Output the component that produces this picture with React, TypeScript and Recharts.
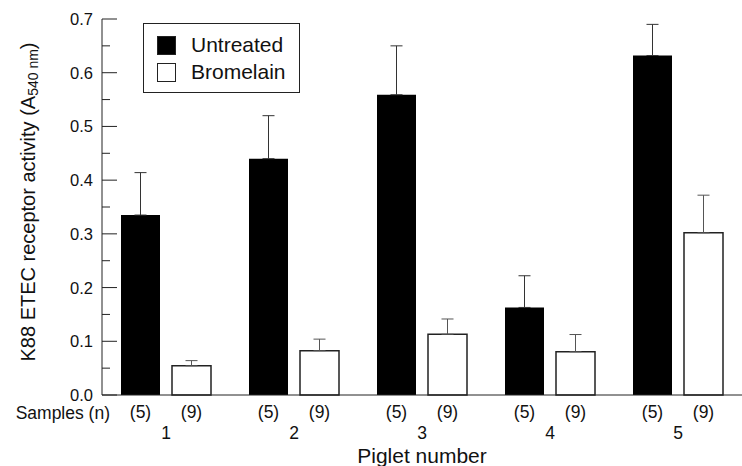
import { BarChart, Bar, XAxis, YAxis, ErrorBar, LabelList, Legend } from "recharts";

const piglets = ["1", "2", "3", "4", "5"];
const untreated = [0.335, 0.44, 0.559, 0.163, 0.632];
const untreatedErr = [0.079, 0.08, 0.091, 0.059, 0.058];
const bromelain = [0.0545, 0.0825, 0.113, 0.0806, 0.302];
const bromelainErr = [0.0095, 0.0215, 0.0285, 0.032, 0.07];
const untreatedN = [5, 5, 5, 5, 5];
const bromelainN = [9, 9, 9, 9, 9];
const yTicks = [0, 0.05, 0.1, 0.15, 0.2, 0.25, 0.3, 0.35, 0.4, 0.45, 0.5, 0.55, 0.6, 0.65, 0.7];

const FONT = '"Liberation Sans", Arial, Helvetica, sans-serif';
const INK = "#222";

const data = piglets.map((p, i) => ({
  piglet: p,
  untreated: untreated[i],
  untreatedErr: [0, untreatedErr[i]],
  untreatedN: untreatedN[i],
  bromelain: bromelain[i],
  bromelainErr: [0, bromelainErr[i]],
  bromelainN: bromelainN[i],
}));

function YTick(props: any) {
  const { x, y, payload } = props;
  const major = Math.round(payload.value * 100) % 10 === 0;
  const ax = x + 9;
  return (
    <g>
      <line x1={ax} x2={ax + (major ? 15 : 8)} y1={y} y2={y} stroke={INK} strokeWidth={1} />
      {major && (
        <text x={x} y={y} textAnchor="end" dominantBaseline="central" fontSize={16.5} fill="#111" fontFamily={FONT}>
          {payload.value.toFixed(1)}
        </text>
      )}
    </g>
  );
}

function XTick(props: any) {
  const { x, y, payload } = props;
  return (
    <text x={x} y={y} textAnchor="middle" dominantBaseline="central" fontSize={17.5} fill="#111" fontFamily={FONT}>
      {payload.value}
    </text>
  );
}

function nLabel(props: any) {
  const { x, y, width, height, value } = props;
  return (
    <text
      x={x + width / 2}
      y={y + height + 17}
      textAnchor="middle"
      dominantBaseline="central"
      fontSize={17.5}
      fill="#111"
      fontFamily={FONT}
    >
      ({value})
    </text>
  );
}

function XTitle(props: any) {
  const vb = props.viewBox || {};
  return (
    <g fontFamily={FONT} fill="#111">
      <text x={vb.x + vb.width / 2} y={vb.y + 60} textAnchor="middle" dominantBaseline="central" fontSize={21}>
        Piglet number
      </text>
      <text x={vb.x + 8} y={vb.y + 18} textAnchor="end" dominantBaseline="central" fontSize={17.5}>
        Samples (n)
      </text>
    </g>
  );
}

function YTitle(props: any) {
  const vb = props.viewBox || {};
  const cx = vb.x + 28;
  const cy = vb.y + vb.height / 2 - 5;
  return (
    <text
      x={cx}
      y={cy}
      transform={`rotate(-90 ${cx} ${cy})`}
      textAnchor="middle"
      dominantBaseline="central"
      fontSize={20}
      fill="#111"
      fontFamily={FONT}
    >
      K88 ETEC receptor activity (A
      <tspan fontSize={14} dy={5}>540 nm</tspan>
      <tspan dy={-5}>)</tspan>
    </text>
  );
}

function LegendBox() {
  const row = (fill: string, label: string, top: number) => (
    <div style={{ position: "absolute", left: 13, top, display: "flex", alignItems: "center" }}>
      <div style={{ width: 19, height: 19, background: fill, border: `1px solid ${INK}`, boxSizing: "border-box" }} />
      <span style={{ marginLeft: 15, fontSize: 21, fontFamily: FONT, color: "#111", lineHeight: "20px" }}>{label}</span>
    </div>
  );
  return (
    <div style={{ position: "relative", width: 157, height: 70, border: `1px solid ${INK}`, boxSizing: "border-box", background: "#fff" }}>
      {row("#000", "Untreated", 11)}
      {row("#fff", "Bromelain", 38)}
    </div>
  );
}

export default function App() {
  return (
    <div style={{ position: "absolute", left: 0, top: 0, background: "#fff" }}>
      <BarChart
        width={742}
        height={466}
        data={data}
        margin={{ top: 19, right: 0, left: 0, bottom: 0 }}
        barCategoryGap={19}
        barGap={12}
      >
        <XAxis
          dataKey="piglet"
          height={71}
          tickLine={false}
          tickSize={0}
          tickMargin={38}
          interval={0}
          tick={<XTick />}
          axisLine={{ stroke: INK }}
          label={{ content: XTitle }}
        />
        <YAxis
          width={102}
          domain={[0, 0.7]}
          ticks={yTicks}
          interval={0}
          tickLine={false}
          tickSize={0}
          tickMargin={9}
          tick={<YTick />}
          axisLine={{ stroke: INK }}
          label={{ content: YTitle }}
        />
        <Legend
          layout="vertical"
          align="center"
          verticalAlign="middle"
          content={() => <LegendBox />}
          wrapperStyle={{ left: 143, top: 23, width: 157, height: 70 }}
        />
        <Bar dataKey="untreated" name="Untreated" fill="#000" isAnimationActive={false}>
          <ErrorBar dataKey="untreatedErr" width={6} stroke="#333" strokeWidth={1} direction="y" />
          <LabelList dataKey="untreatedN" content={nLabel} />
        </Bar>
        <Bar dataKey="bromelain" name="Bromelain" fill="#fff" stroke={INK} strokeWidth={1.5} isAnimationActive={false}>
          <ErrorBar dataKey="bromelainErr" width={6} stroke="#555" strokeWidth={1} direction="y" />
          <LabelList dataKey="bromelainN" content={nLabel} />
        </Bar>
      </BarChart>
    </div>
  );
}
